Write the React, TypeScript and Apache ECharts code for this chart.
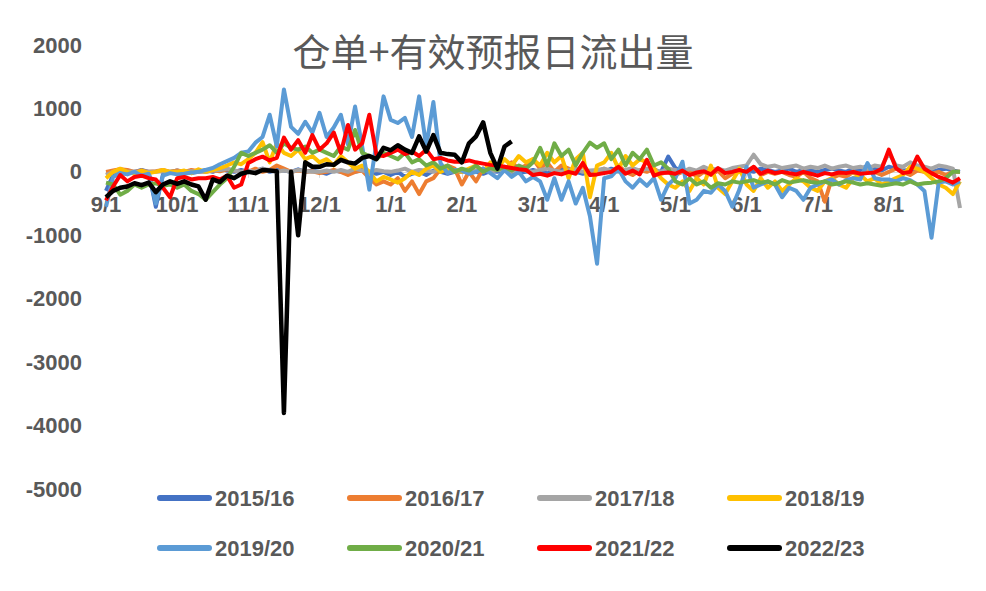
import React, { useEffect, useRef } from "react";
import * as echarts from "echarts";

const MONTHS = [9, 10, 11, 12, 1, 2, 3, 4, 5, 6, 7, 8];
const DAYS = [1, 4, 7, 10, 13, 16, 19, 22, 25, 28];
const LAST_DAY = "8/31";

const SERIES_NAMES = ["2015/16", "2016/17", "2017/18", "2018/19", "2019/20", "2020/21", "2021/22", "2022/23"];
const SERIES_COLORS = ["#4472C4", "#ED7D31", "#A5A5A5", "#FFC000", "#5B9BD5", "#70AD47", "#FF0000", "#000000"];

const Y_TICKS = { min: -5000, max: 2000, step: 1000 };

const s2015 = [
  -300, -50, 0, -20, 0, 30, 0, -550, -40, 0,
  20, 0, -20, 0, 30, 0, 50, 20, 0, 30,
  0, 20, 50, 0, 30, 20, 0, 40, 0, 20,
  0, -30, 20, 0, -20, 0, 30, 0, -30, 0,
  -50, 0, -80, -30, 0, -50, 20, 0, -30, 0,
  0, 20, 0, -30, 10, 0, 20, 0, -20, 0,
  30, 0, -20, 0, 50, 20, 0, -30, 0, 20,
  0, 50, 20, 0, -30, 0, 30, 20, 0, 240,
  60, 0, 30, -20, 0, 50, 20, 0, 30, 0,
  20, 0, 50, 30, 0, 20, 50, 0, 30, 20,
  0, 30, 50, 20, 0, 50, 30, 100, 50, 20,
  80, 50, 20, 30, 50, 20, 0, 30, 50, 20, 0,
];

const s2016 = [
  0, 20, 40, 30, 0, 20, 0, 10, 30, 0,
  20, 0, 30, 10, 0, 20, 10, 40, 20, 0,
  0, 50, 0, 30, 100, 50, 0, 20, 0, 10,
  -20, 0, 30, 0, -50, 0, 20, -100, -200, -150,
  -200, -100, -300, -150, -350, -150, -100, 50, 100, 50,
  -200, 0, -150, 50, 0, 100, 20, 150, 50, 100,
  200, 50, 150, 0, 100, 50, 0, 100, -50, 0,
  50, -20, 100, 0, -50, 30, 0, 50, -30, 0,
  -50, 0, 30, -80, 0, -50, 20, -100, -30, 0,
  0, 80, -50, 0, -30, 0, -50, -80, 0, -100,
  -150, -470, -100, -50, -80, 0, -50, 20, 0, -50,
  0, 50, 0, -50, 20, 0, -30, 0, -50, 0, 0,
];

const s2017 = [
  -50, 0, 10, 0, 0, 5, 0, 0, 10, 0,
  0, 0, 10, 0, 0, 20, 30, 50, 20, 0,
  20, 0, 50, 30, 0, 20, 0, 30, 10, 0,
  0, 20, 0, 30, 0, 50, 20, 0, 30, 10,
  0, 20, 50, 0, 30, 20, 0, 50, 20, 0,
  30, 0, 20, 50, 0, 30, 20, 0, 50, 20,
  0, 30, 50, 20, 0, 30, 50, 0, 20, 30,
  50, 20, 0, 30, 60, 20, 50, 30, 0, 50,
  30, 0, 50, 20, 80, 30, 50, 20, 60, 80,
  100, 270, 120, 80, 100, 60, 80, 100, 50, 80,
  60, 100, 50, 80, 100, 60, 80, 50, 100, 80,
  300, 100, 80, 150, 100, 80, 50, 100, 80, 50, -570,
];

const s2018 = [
  -100, 0, 50, 0, -30, 20, -20, 0, 30, 0,
  0, 20, -20, 40, 0, 30, 60, 100, 150, 120,
  200, 300, 470, 150, 450, 300, 250, 350, 200, 250,
  150, 200, 100, 250, 150, 50, 100, 0, -150, -80,
  -120, -170, -100, 0, -50, 50, 100, 0, 50, 20,
  0, 50, 100, 0, 150, 50, 200, 100, 250, 150,
  200, 100, 300, 150, 250, -100, 200, 300, -400, 100,
  150, 300, 50, 250, 100, 200, 150, 50, -100, -200,
  -250, -150, -300, -100, -200, 100, -250, -350, -150, 50,
  -200, -300, -100, -250, -150, -300, -200, -100, -150, -250,
  -300, -150, -100, -200, -250, -100, -50, -150, -100, -200,
  -150, -100, -50, 80, 50, 0, -100, -200, -250, -350, -150,
];

const s2019 = [
  -550, -80, -20, -40, 0, -60, -30, -500, -60, -20,
  -40, -30, -10, 0, 30, 60, 120, 170, 220, 300,
  320, 460, 550, 900, 400, 1300, 710, 600, 790, 620,
  930, 550, 700, 900, 430, 1030, 400, -280, 460, 1190,
  820, 770, 850, 550, 1190, 400, 1100, 140, -20, 30,
  20, -30, 0, 50, -20, -100, 30, -80, 0, -150,
  -80, -150, -440, -100, -440, -150, -500, -250, -700, -1450,
  -100, -70, 50, -150, -250, -120, -220, -100, -440, -200,
  -100, 160, -500, -440, -300, -330, -200, -300, -550, -280,
  80, -250, -200, -150, -200, -400, -250, -300, -440, -250,
  -200, -150, -120, -200, -130, -100, -120, 140, -100, -120,
  -120, -150, -100, -130, -200, -300, -1040, -170, -150, -200, -150,
];

const s2020 = [
  -170, -200, -360, -300, -200, -250, -200, -180, -220, -200,
  -250, -200, -300, -350, -440, -320, -200, -100, 80, 300,
  250, 300, 350, 420, 300, 450, 380, 350, 400, 300,
  350, 300, 250, 400, 350, 660, 300, 250, 200, 300,
  250, 200, 300, 150, 200, 100, 150, 50, 100, 0,
  50, 20, 100, 0, 60, 30, 80, 20, 100, 50,
  150, 380, 100, 450, 250, 350, 100, 300, 460, 380,
  450, 200, 350, 100, 300, 200, 350, 100, 150, 50,
  -150, -200, -100, -200, -150, -250, -180, -200, -150, -170,
  -150, -130, -170, -150, -200, -130, -170, -150, -130, -160,
  -170, -150, -200, -180, -150, -170, -200, -180, -200, -220,
  -200, -180, -200, -150, -200, -180, -170, -150, -100, 0, 0,
];

const s2021 = [
  -450, -230, -50, -150, -80, -60, -100, -120, -250, -400,
  -100, -80, -120, -100, -100, -80, -120, -60, -250, -200,
  140, 200, 240, 180, 220, 540, 350, 500, 300, 580,
  350, 450, 620, 300, 740, 350, 450, 900, 270, 250,
  300, 350, 280, 320, 250, 350, 200, 220, 180, 160,
  160, 180, 150, 130, 110, 100, 80, 60, 40, 30,
  -50, -30, -60, -20, -40, 0, -30, 140, -50, -40,
  -20, 0, 80, -30, 20, -40, 190, -60, -20, -10,
  -30, 20, -50, -10, 10, -40, 60, -20, 0, 30,
  0, 80, -30, 20, -20, 0, -20, -40, 0, -30,
  -60, -20, -40, -10, -20, 0, -30, -20, -10, 50,
  350, 60, -20, 0, 240, 50, -20, -80, -120, -170, -100,
];

const s2022 = [
  -400, -300, -250, -230, -180, -210, -170, -320, -200, -150,
  -190, -150, -200, -230, -440, -120, -160, -60, -100, -30,
  0, -20, 30, 20, 10, -3800, 0, -1000, 150, 80,
  80, 120, 110, 190, 150, 130, 220, 250, 200, 380,
  340, 420, 350, 300, 560, 320, 580, 300, 280, 270,
  150, 450, 560, 780, 300, 50, 400, 480,
];

const SERIES_DATA = [s2015, s2016, s2017, s2018, s2019, s2020, s2021, s2022];

const LEGEND_POS = [
  [157, 487], [347, 487], [537, 487], [727, 487],
  [157, 537], [347, 537], [537, 537], [727, 537],
];

const FONT = "'Liberation Sans', Arial, sans-serif";
const TEXT_COLOR = "#595959";

const GRID = { left: 106, right: 26, top: 45, bottom: 102 };

export default function App() {
  const ref = useRef<HTMLDivElement>(null);

  useEffect(() => {
    if (!ref.current) return;
    const chart = echarts.init(ref.current, null, { renderer: "svg" });

    const categories: string[] = [];
    MONTHS.forEach((m) => DAYS.forEach((d) => categories.push(`${m}/${d}`)));
    categories.push(LAST_DAY);

    const isMonthStart = (_i: number, v: string) => String(v).split("/")[1] === "1";

    // place the category axis on the zero line of the value axis
    const plotHeight = 591 - GRID.top - GRID.bottom;
    const zeroFromBottom = ((0 - Y_TICKS.min) / (Y_TICKS.max - Y_TICKS.min)) * plotHeight;

    const legendIcon = "path://M3,0 H52 A3,3 0 0 1 52,6 H3 A3,3 0 0 1 3,0 Z";

    const option: any = {
      animation: false,
      backgroundColor: "#ffffff",
      title: {
        text: "仓单+有效预报日流出量",
        left: "center",
        top: 30,
        padding: 0,
        textStyle: {
          fontFamily: "'Noto Sans CJK SC', sans-serif",
          fontSize: 38,
          fontWeight: "normal",
          color: TEXT_COLOR,
        },
      },
      legend: SERIES_NAMES.map((name, i) => ({
        data: [name],
        left: LEGEND_POS[i][0],
        top: LEGEND_POS[i][1],
        padding: 0,
        itemWidth: 55,
        itemHeight: 6,
        itemGap: 0,
        icon: legendIcon,
        textStyle: { fontFamily: FONT, fontSize: 22, fontWeight: "bold", color: TEXT_COLOR, padding: [0, 0, 0, -2] },
      })),
      grid: { ...GRID, containLabel: false },
      xAxis: {
        type: "category",
        data: categories,
        boundaryGap: false,
        position: "bottom",
        offset: -zeroFromBottom,
        axisLine: { show: true, onZero: false, lineStyle: { color: "#d9d9d9", width: 1 } },
        axisTick: { show: true, interval: isMonthStart, length: 6, lineStyle: { color: "#d9d9d9" } },
        axisLabel: {
          interval: isMonthStart,
          margin: 22,
          fontFamily: FONT,
          fontSize: 22,
          fontWeight: "bold",
          color: TEXT_COLOR,
        },
        splitLine: { show: false },
      },
      yAxis: {
        type: "value",
        min: Y_TICKS.min,
        max: Y_TICKS.max,
        interval: Y_TICKS.step,
        axisLine: { show: false },
        axisTick: { show: false },
        splitLine: { show: false },
        axisLabel: {
          margin: 24,
          formatter: (v: number) => String(v),
          fontFamily: FONT,
          fontSize: 22,
          fontWeight: "bold",
          color: TEXT_COLOR,
        },
      },
      series: SERIES_NAMES.map((name, i) => ({
        name,
        type: "line",
        data: SERIES_DATA[i],
        symbol: "none",
        showSymbol: false,
        color: SERIES_COLORS[i],
        lineStyle: { color: SERIES_COLORS[i], width: i === 7 ? 4.5 : 4, join: "round" },
        emphasis: { disabled: true },
        z: 2 + i,
      })),
    };

    chart.setOption(option);
    return () => chart.dispose();
  }, []);

  return (
    <div
      ref={ref}
      style={{ position: "fixed", left: 0, top: 0, width: 986, height: 591, background: "#fff" }}
    />
  );
}
